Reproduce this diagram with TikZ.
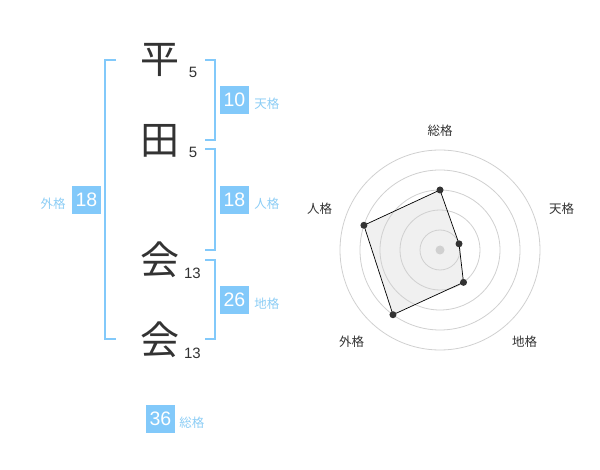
\documentclass[tikz,border=0pt]{standalone}
\usepackage{fontspec}
\setmainfont{Liberation Sans}
\newfontfamily\jpfont{Noto Sans CJK JP}
\usepackage{tikz}
\usetikzlibrary{positioning}

\definecolor{kakublue}{RGB}{130,201,250}
\definecolor{kakutext}{RGB}{140,205,245}
\definecolor{inkgray}{RGB}{51,51,51}
\definecolor{ringgray}{RGB}{208,208,208}
\definecolor{areagray}{RGB}{240,240,240}

\begin{document}
\begin{tikzpicture}[x=1pt, y=-1pt,
    kanji/.style={font=\jpfont\fontsize{39}{39}\selectfont, text=inkgray, inner sep=0pt},
    strokes/.style={font=\fontsize{15}{15}\selectfont, text=inkgray, inner sep=0pt},
    score/.style={rectangle, fill=kakublue, text=white, inner sep=0pt,
                  minimum width=29pt, minimum height=28pt, font=\fontsize{19.5}{19.5}\selectfont},
    kaku/.style={font=\jpfont\fontsize{12.5}{12.5}\selectfont, text=kakutext, inner sep=0pt},
    bracket/.style={draw=kakublue, line width=2pt},
    axis/.style={font=\jpfont\fontsize{12.5}{12.5}\selectfont, text=inkgray, inner sep=0pt},
    ring/.style={draw=ringgray, line width=0.8pt},
    dot/.style={circle, fill=inkgray, inner sep=0pt, minimum size=7pt}
]
    \useasboundingbox (0,0) rectangle (600,470);

    % Name
    \node[kanji] (hira) at (160,60) {平};
    \node[kanji] (ta) at (160,141) {田};
    \node[kanji] (kai1) at (160,260) {会};
    \node[kanji] (kai2) at (160,340) {会};

    % Stroke counts
    \node[strokes] (s1) at (193,72.5) {5};
    \node[strokes] (s2) at (193,152.5) {5};
    \node[strokes] (s3) at (192.5,273) {13};
    \node[strokes] (s4) at (192.5,353) {13};

    % Brackets
    \draw[bracket] (116,60) -- (105,60) -- (105,339) -- (116,339);
    \draw[bracket] (205,60) -- (215,60) -- (215,140) -- (205,140);
    \draw[bracket] (205,149) -- (215,149) -- (215,250) -- (205,250);
    \draw[bracket] (205,260) -- (215,260) -- (215,339) -- (205,339);

    % Scores
    \node[score] (ten) at (234.5,100) {10};
    \node[kaku, right=5pt of ten, yshift=-3.5pt] (tenlabel) {天格};
    \node[score] (jin) at (234.5,200) {18};
    \node[kaku, right=5pt of jin, yshift=-3.5pt] (jinlabel) {人格};
    \node[score] (chi) at (234.5,300) {26};
    \node[kaku, right=5pt of chi, yshift=-3.5pt] (chilabel) {地格};
    \node[score] (gai) at (86.5,200) {18};
    \node[kaku, left=6pt of gai, yshift=-3.5pt] (gailabel) {外格};
    \node[score] (sou) at (160.5,419) {36};
    \node[kaku, right=4pt of sou, yshift=-3.5pt] (soulabel) {総格};

    % Radar chart
    \begin{scope}[shift={(440,250)}, y=1pt]
        \coordinate (psou) at (90:60);
        \coordinate (pten) at (18:20);
        \coordinate (pchi) at (-54:40);
        \coordinate (pgai) at (-126:80);
        \coordinate (pjin) at (162:80);

        \fill[areagray] (psou) -- (pten) -- (pchi) -- (pgai) -- (pjin) -- cycle;
        \foreach \r in {20,40,60,80,100}
            \draw[ring] (0,0) circle (\r);
        \fill[ringgray] (0,0) circle (4.5);

        \draw[black, line width=0.7pt]
            (psou) -- (pten) -- (pchi) -- (pgai) -- (pjin) -- cycle;
        \foreach \p in {psou,pten,pchi,pgai,pjin}
            \node[dot] at (\p) {};

        \node[axis] (asou) at (0,119.5) {総格};
        \node[axis] (aten) at (121.5,41.5) {天格};
        \node[axis] (achi) at (84.5,-92) {地格};
        \node[axis] (agai) at (-88.5,-92) {外格};
        \node[axis] (ajin) at (-120.5,41.5) {人格};
    \end{scope}

\end{tikzpicture}
\end{document}
